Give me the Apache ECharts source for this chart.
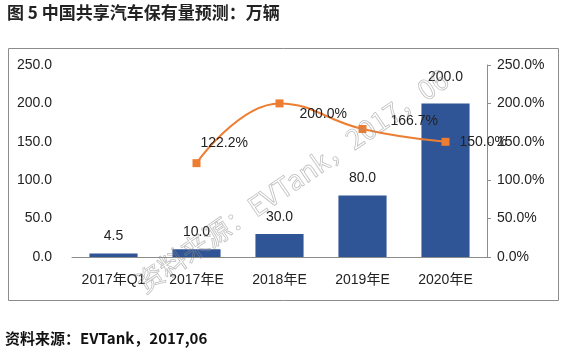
<!DOCTYPE html>
<html><head><meta charset="utf-8">
<script src="https://cdn.jsdelivr.net/npm/echarts@6/dist/echarts.min.js"></script>
<style>html,body{margin:0;padding:0;background:#fff}#c{width:579px;height:360px}</style>
</head><body><div id="c"></div>
<script>
const categories = ['2017年Q1','2017年E','2018年E','2019年E','2020年E'];
const stockValues = [4.5, 10.0, 30.0, 80.0, 200.0];
const growthValues = [null, 122.2, 200.0, 166.7, 150.0];
const leftTicks = {min:0, max:250, interval:50};
const rightTicks = {min:0, max:250, interval:50};
const titleText = '图 5 中国共享汽车保有量预测：万辆';
const sourceText = '资料来源：EVTank，2017,06';
const watermarkText = '资料来源：EVTank，2017，06';

const lineOffsets = [[0,0],[-4,-20],[12,11],[20,-8],[6,0]];
const chart = echarts.init(document.getElementById('c'), null, {renderer:'canvas'});
const numFont = '"Liberation Sans", Arial, "Noto Sans CJK SC"';
chart.setOption({
  animation:false,
  textStyle:{fontFamily:numFont},
  grid:{left:72, right:92, top:65, bottom:103},
  xAxis:{type:'category', data:categories,
    axisLine:{lineStyle:{color:'#8c8c8c', width:1}},
    axisTick:{show:false},
    axisLabel:{color:'#222', fontSize:14, margin:16, fontFamily:numFont}},
  yAxis:[
    {type:'value', min:leftTicks.min, max:leftTicks.max, interval:leftTicks.interval,
     axisLine:{show:false}, axisTick:{show:false}, splitLine:{show:false},
     axisLabel:{color:'#222', fontSize:14, margin:20, formatter:v=>v.toFixed(1)}},
    {type:'value', position:'right', min:rightTicks.min, max:rightTicks.max, interval:rightTicks.interval,
     axisLine:{show:true, lineStyle:{color:'#8c8c8c'}},
     axisTick:{show:true, inside:false, length:4, lineStyle:{color:'#8c8c8c'}},
     splitLine:{show:false},
     axisLabel:{color:'#222', fontSize:14, margin:10, formatter:v=>v.toFixed(1)+'%'}}
  ],
  series:[
    {type:'bar', data:stockValues.map((v,i)=>({value:v, label: i===4?{offset:[0,-9]}:undefined})),
     barWidth:'58%', itemStyle:{color:'#2f5597'},
     label:{show:true, position:'top', distance:10, color:'#222', fontSize:14, formatter:p=>p.value.toFixed(1)}},
    {type:'line', yAxisIndex:1, data:growthValues.map((v,i)=>({value:v, label:{offset:lineOffsets[i]}})),
     smooth:0.45, connectNulls:false, symbol:'rect', symbolSize:8,
     lineStyle:{color:'#ed7d31', width:2}, itemStyle:{color:'#ed7d31'},
     label:{show:true, position:'right', distance:4, color:'#222', fontSize:14,
       formatter:p=>p.value==null?'':p.value.toFixed(1)+'%'}}
  ],
  graphic:[
    {type:'text', left:7, top:4, style:{text:titleText, font:'bold 17px "Noto Sans CJK SC"', fill:'#222'}},
    {type:'rect', shape:{x:8.5, y:48.5, width:550, height:252}, style:{fill:null, stroke:'#8c8c8c', lineWidth:1}, z:-1},
    {type:'text', left:5, top:331, style:{text:sourceText, font:'bold 15px "Noto Sans CJK SC"', fill:'#111'}},
    {type:'text', x:292, y:181, rotation:0.6, z:100,
     style:{text:watermarkText, font:'27px "Noto Sans CJK SC"', fill:'rgba(255,255,255,0)', stroke:'rgba(140,140,140,0.55)', lineWidth:0.8, align:'center', verticalAlign:'middle'}}
  ]
});
</script></body></html>
